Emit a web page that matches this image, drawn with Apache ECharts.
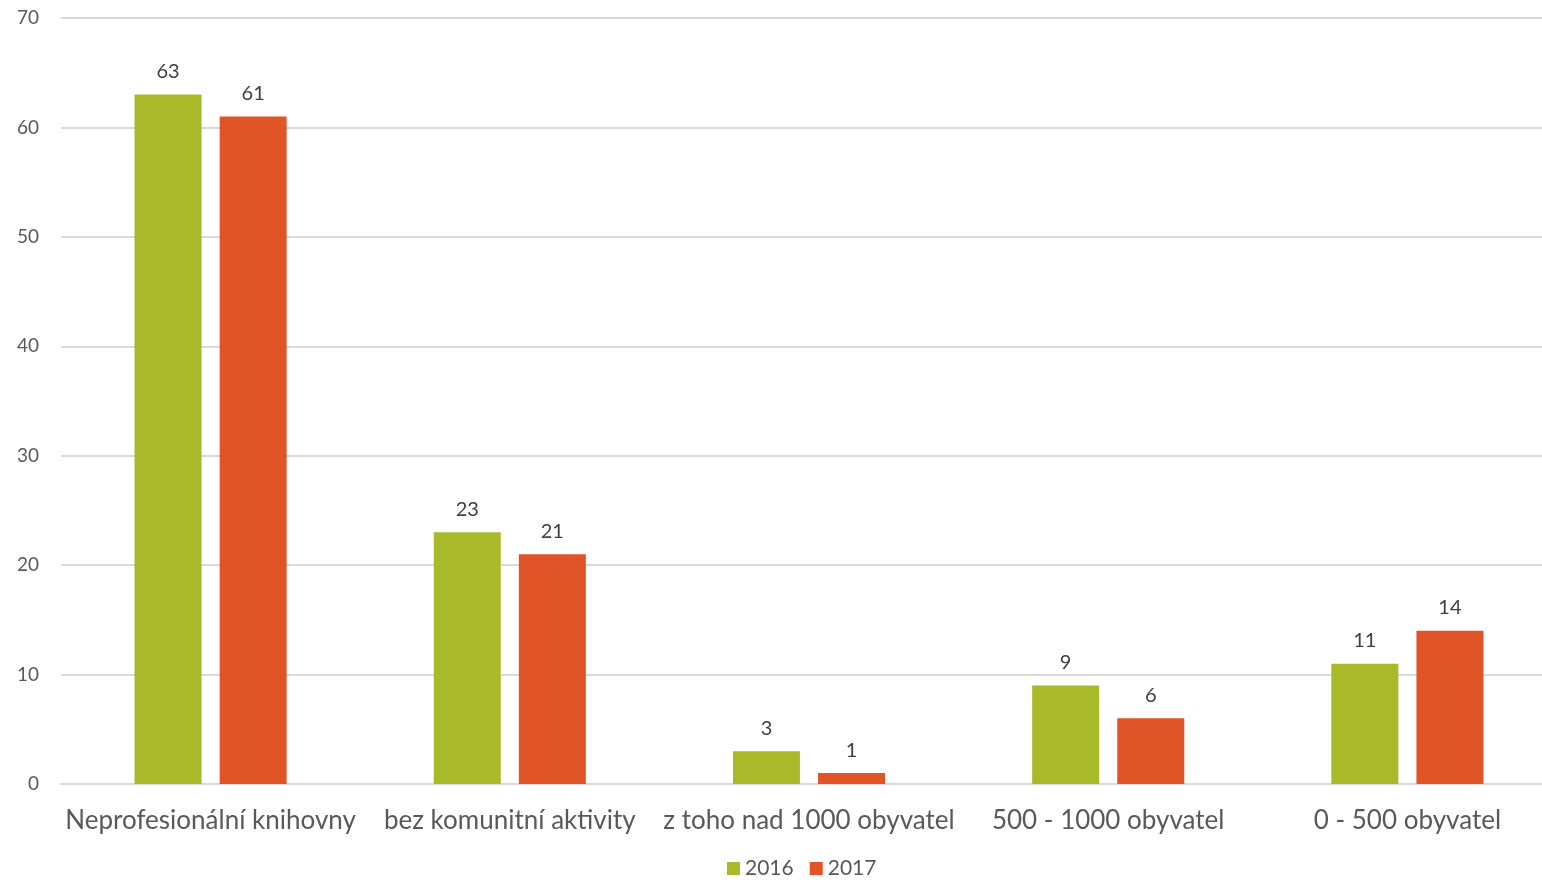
<!DOCTYPE html>
<html>
<head>
<meta charset="utf-8">
<script src="https://cdn.jsdelivr.net/npm/echarts@6/dist/echarts.min.js"></script>
<style>
html,body{margin:0;padding:0;background:#fff;}
#c{width:1542px;height:884px;}
</style>
</head>
<body>
<div id="c"></div>
<script>
const categories = ['Neprofesionální knihovny', 'bez komunitní aktivity', 'z toho nad 1000 obyvatel', '500 - 1000 obyvatel', '0 - 500 obyvatel'];
const values2016 = [63, 23, 3, 9, 11];
const values2017 = [61, 21, 1, 6, 14];
const seriesNames = ['2016', '2017'];

const chart = echarts.init(document.getElementById('c'));
const font = 'Lato, "Open Sans", sans-serif';
const labelStyle = {show: true, position: 'top', distance: 13, color: '#404040', fontSize: 20, fontFamily: font};
chart.setOption({
  animation: false,
  textStyle: {fontFamily: font},
  grid: {left: 61, width: 1496, top: 18, height: 766, containLabel: false, outerBoundsMode: 'none'},
  legend: {
    data: seriesNames, bottom: 0, left: 722,
    itemWidth: 13, itemHeight: 13, itemGap: 16,
    icon: 'rect',
    textStyle: {color: '#595959', fontSize: 21, fontFamily: font}
  },
  xAxis: {
    type: 'category', data: categories,
    axisLine: {lineStyle: {color: '#d9d9d9', width: 2}},
    axisTick: {show: false},
    axisLabel: {color: '#595959', fontSize: 26, margin: 24, fontFamily: font, interval: 0}
  },
  yAxis: {
    type: 'value', min: 0, max: 70, interval: 10,
    axisLine: {show: false}, axisTick: {show: false},
    splitLine: {lineStyle: {color: '#d9d9d9', width: 2}},
    axisLabel: {color: '#595959', fontSize: 19, margin: 22, fontFamily: font}
  },
  series: [
    {name: seriesNames[0], type: 'bar', data: values2016, barWidth: 67, barGap: '27%',
     itemStyle: {color: '#A8B92A'}, label: labelStyle},
    {name: seriesNames[1], type: 'bar', data: values2017, barWidth: 67, barGap: '27%',
     itemStyle: {color: '#E05427'}, label: labelStyle}
  ]
});
</script>
</body>
</html>
